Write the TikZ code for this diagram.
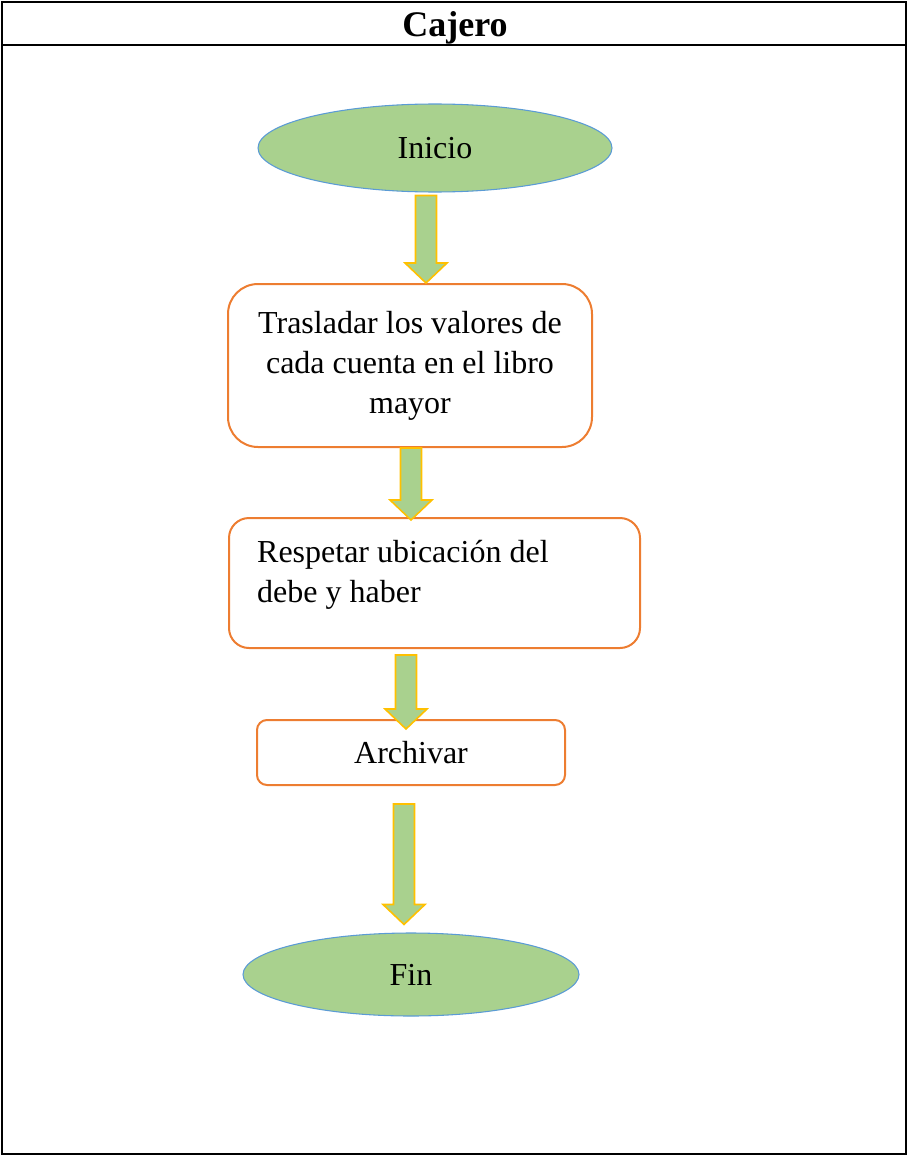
\documentclass[tikz,border=0pt]{standalone}
\usepackage{fontspec}
\setmainfont{Liberation Serif}
\usepackage{xcolor}
\usepackage{tikz}
\usetikzlibrary{shapes.geometric,calc}

\definecolor{verde}{HTML}{A9D18E}
\definecolor{azul}{HTML}{5B9BD5}
\definecolor{naranja}{HTML}{ED7D31}
\definecolor{amarillo}{HTML}{FFC000}

% flecha de bloque vertical: punto de salida, punto de llegada (solo cuenta su altura)
\newcommand{\flecha}[2]{%
	\draw[bloque] let \p1=#1, \p2=#2 in
		(\x1-7.9pt,\y1) -- (\x1+7.9pt,\y1) -- (\x1+7.9pt,\y2+15pt) -- (\x1+15.75pt,\y2+15pt)
		-- (\x1,\y2) -- (\x1-15.75pt,\y2+15pt) -- (\x1-7.9pt,\y2+15pt) -- cycle;}

\begin{document}
\begin{tikzpicture}[x=0.75pt,y=-0.75pt,
	texto/.style={font=\fontsize{24}{30}\selectfont},
	terminal/.style={texto,ellipse,draw=azul,fill=verde,line width=0.8pt,inner sep=0pt},
	caja/.style={texto,rectangle,draw=naranja,line width=1.5pt,inner sep=0pt},
	bloque/.style={fill=verde,draw=amarillo,line width=1.2pt,line join=miter}]
	\useasboundingbox (0,0) rectangle (908,1156);
	\draw[line width=1.5pt] (2,2) rectangle (906,1154);
	\draw[line width=1.5pt] (2,45) -- (906,45);
	%
	\node[font=\fontsize{27}{30}\selectfont\bfseries,anchor=base,inner sep=0pt] (titulo) at (455,37) {Cajero};
	%
	\node[terminal,minimum width=265.5pt,minimum height=66pt] (inicio) at (435,148) {Inicio};
	\node[caja,rounded corners=22.5pt,minimum width=273pt,minimum height=122.25pt,align=center] (trasladar) at (410,365.5) {Trasladar los valores de\\cada cuenta en el libro\\mayor};
	\node[caja,rounded corners=15pt,minimum width=308.25pt,minimum height=97.5pt,text width=266pt,align=flush left] (respetar) at (434.5,583) {Respetar ubicación del\\debe y haber\\[-12pt]\mbox{}};
	\node[caja,rounded corners=7.5pt,minimum width=231pt,minimum height=48.75pt] (archivar) at (411,752.5) {Archivar};
	\node[terminal,minimum width=252pt,minimum height=62.25pt] (fin) at (411,974.5) {Fin};
	%
	\flecha{($(inicio.south)+(-9,3)$)}{(trasladar.north)}
	\flecha{($(trasladar.south)+(1,0)$)}{($(respetar.north)+(0,3)$)}
	\flecha{($(respetar.south)+(-28.5,6)$)}{($(archivar.north)+(0,10)$)}
	\flecha{($(archivar.south)+(-7,18)$)}{($(fin.north)+(0,-8)$)}
\end{tikzpicture}
\end{document}
